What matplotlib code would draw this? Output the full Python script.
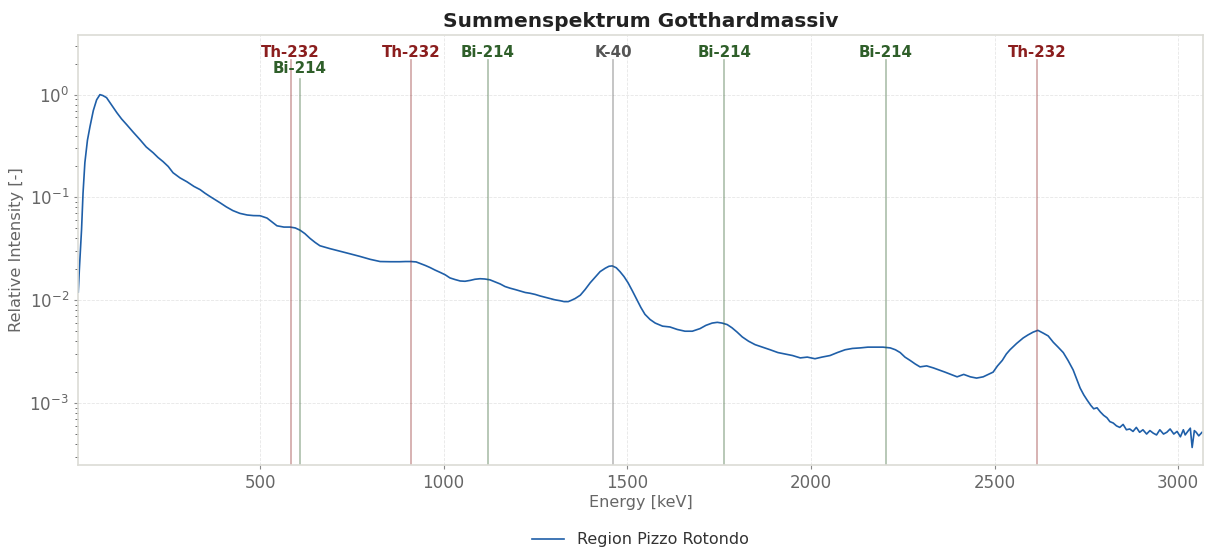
import numpy as np
import matplotlib
matplotlib.use("Agg")
import matplotlib.pyplot as plt

# traced spectrum (energy in keV, normalised intensity), rows of 10 so both lists line up
energy = [5, 8, 12, 14, 18, 23, 30, 37, 46, 55,
          64, 72, 82, 95, 110, 123, 137, 155, 173, 190,
          209, 222, 236, 250, 263, 282, 301, 320, 337, 350,
          364, 378, 391, 408, 426, 445, 465, 482, 500, 519,
          532, 546, 565, 582, 596, 609, 622, 636, 650, 663,
          690, 718, 745, 772, 800, 827, 855, 881, 896, 911,
          925, 936, 950, 963, 976, 990, 1004, 1017, 1031, 1045,
          1058, 1072, 1085, 1099, 1112, 1126, 1140, 1154, 1167, 1181,
          1195, 1208, 1222, 1235, 1249, 1263, 1276, 1290, 1303, 1317,
          1328, 1339, 1348, 1358, 1372, 1385, 1399, 1412, 1426, 1440,
          1450, 1459, 1470, 1480, 1491, 1502, 1514, 1527, 1537, 1548,
          1562, 1576, 1596, 1616, 1636, 1657, 1677, 1698, 1714, 1731,
          1745, 1758, 1772, 1785, 1799, 1813, 1830, 1848, 1868, 1889,
          1910, 1930, 1950, 1971, 1990, 2011, 2030, 2052, 2072, 2093,
          2113, 2134, 2155, 2175, 2196, 2216, 2230, 2243, 2256, 2270,
          2284, 2297, 2315, 2333, 2349, 2365, 2381, 2398, 2416, 2434,
          2451, 2469, 2483, 2496, 2508, 2521, 2532, 2542, 2560, 2578,
          2591, 2605, 2618, 2632, 2646, 2660, 2673, 2687, 2700, 2714,
          2724, 2733, 2743, 2752, 2762, 2770, 2779, 2788, 2797, 2806,
          2814, 2823, 2832, 2841, 2850, 2859, 2868, 2877, 2886, 2895,
          2904, 2914, 2923, 2932, 2941, 2950, 2960, 2969, 2978, 2988,
          2997, 3006, 3014, 3019, 3026, 3033, 3038, 3044, 3049, 3056, 3065]
intensity = [0.012, 0.020, 0.036, 0.049, 0.11, 0.218, 0.36, 0.49, 0.70, 0.89,
             1.0, 0.98, 0.935, 0.80, 0.668, 0.58, 0.51, 0.43, 0.365, 0.31,
             0.272, 0.245, 0.223, 0.200, 0.174, 0.155, 0.142, 0.128, 0.119, 0.110,
             0.102, 0.095, 0.0888, 0.081, 0.0745, 0.070, 0.0675, 0.0666, 0.0664, 0.0630,
             0.0580, 0.0530, 0.0515, 0.0515, 0.0505, 0.0480, 0.0445, 0.0400, 0.0365, 0.0339,
             0.0318, 0.0300, 0.0283, 0.0267, 0.0250, 0.0238, 0.0237, 0.0237, 0.0238, 0.0238,
             0.0236, 0.0228, 0.0218, 0.0208, 0.0197, 0.0187, 0.0177, 0.0165, 0.0159, 0.0154,
             0.0153, 0.0156, 0.0160, 0.0162, 0.0161, 0.0158, 0.0151, 0.0144, 0.0136, 0.0131,
             0.0127, 0.0123, 0.0119, 0.0117, 0.0114, 0.0110, 0.0107, 0.0104, 0.0101, 0.0099,
             0.0097, 0.0097, 0.0100, 0.0104, 0.0112, 0.0127, 0.0148, 0.0167, 0.0190, 0.0205,
             0.0214, 0.0216, 0.0207, 0.0190, 0.0170, 0.0148, 0.0123, 0.0100, 0.0085, 0.0073,
             0.0065, 0.0060, 0.0056, 0.0055, 0.0052, 0.0050, 0.0050, 0.0053, 0.0057, 0.0060,
             0.0061, 0.0060, 0.0058, 0.0054, 0.0049, 0.0044, 0.0040, 0.0037, 0.0035, 0.0033,
             0.0031, 0.0030, 0.0029, 0.00275, 0.0028, 0.0027, 0.0028, 0.0029, 0.0031, 0.0033,
             0.0034, 0.00344, 0.0035, 0.0035, 0.0035, 0.00344, 0.0033, 0.0031, 0.0028, 0.0026,
             0.0024, 0.00225, 0.0023, 0.0022, 0.0021, 0.0020, 0.0019, 0.0018, 0.0019, 0.0018,
             0.00175, 0.0018, 0.0019, 0.0020, 0.0023, 0.0026, 0.0030, 0.0033, 0.0038, 0.0043,
             0.0046, 0.0049, 0.0051, 0.0048, 0.0045, 0.0039, 0.0035, 0.0031, 0.0026, 0.0021,
             0.0017, 0.0014, 0.0012, 0.00107, 0.00095, 0.00088, 0.00090, 0.00082, 0.00076, 0.00072,
             0.00066, 0.00064, 0.00060, 0.00058, 0.00062, 0.00055, 0.00056, 0.00053, 0.00058, 0.00052,
             0.00055, 0.00050, 0.00054, 0.00051, 0.00049, 0.00055, 0.00050, 0.00052, 0.00056, 0.00050,
             0.00053, 0.00047, 0.00055, 0.00049, 0.00053, 0.00057, 0.00037, 0.00054, 0.00052, 0.00048, 0.00052]

# gamma lines (keV, nuclide, label row)
line_energy = [583, 609, 911, 1120, 1461, 1764, 2204, 2615]
line_label = ["Th-232", "Bi-214", "Th-232", "Bi-214", "K-40", "Bi-214", "Bi-214", "Th-232"]
line_row = [0, 1, 0, 0, 0, 0, 0, 0]
nuclide_color = {"Th-232": "#8b1e1e", "Bi-214": "#2f5f2a", "K-40": "#555555"}

fig = plt.figure(figsize=(12.08, 5.48), dpi=100)
ax = fig.add_axes([0.0646, 0.1515, 0.9314, 0.7846])

ax.plot(energy, intensity, color="#1f5fa8", lw=1.2, label="Region Pizzo Rotondo")
ax.set_yscale("log")
ax.set_xlim(4.4, 3068)
ax.set_ylim(2.5e-4, 3.8)

for e, lab, row in zip(line_energy, line_label, line_row):
    c = nuclide_color[lab]
    top = 0.942 if row == 0 else 0.898
    ax.axvline(e, ymin=0, ymax=top, color=c, alpha=0.4, lw=1.2)
    ax.text(e, 0.960 if row == 0 else 0.921, lab, color=c, fontsize=10.8, fontweight="bold",
            ha="center", va="center", transform=ax.get_xaxis_transform())

ax.set_title("Summenspektrum Gotthardmassiv", fontsize=14.5, fontweight="bold", color="#222222", pad=6)
ax.set_xlabel("Energy [keV]", fontsize=11.5, color="#666666", labelpad=2)
ax.set_ylabel("Relative Intensity [-]", fontsize=11.7, color="#666666")
ax.set_xticks([500, 1000, 1500, 2000, 2500, 3000])
ax.grid(True, which="major", ls="--", lw=0.6, color="#e6e6e6")
ax.tick_params(axis="both", which="major", labelsize=12, labelcolor="#666666", color="#888888", length=3)
ax.tick_params(axis="y", which="minor", color="#555555", length=2)
for s in ax.spines.values():
    s.set_color("#dcdcd6")
    s.set_linewidth(1.2)

leg = fig.legend(loc="lower center", bbox_to_anchor=(0.53, -0.025), frameon=False, fontsize=11.5)
for t in leg.get_texts():
    t.set_color("#333333")

fig.savefig("out.png", dpi=100)
